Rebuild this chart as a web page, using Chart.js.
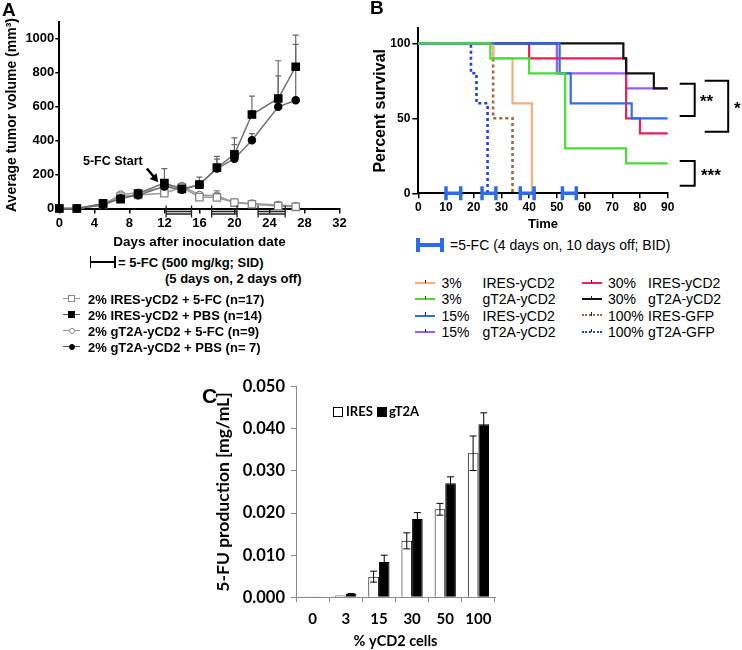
<!DOCTYPE html>
<html>
<head>
<meta charset="UTF-8">
<title>yCD2 tumor volume, survival and 5-FU production</title>
<script src="https://cdn.jsdelivr.net/npm/chart.js@4.4.1/dist/chart.umd.min.js"></script>
<style>
  body { margin: 0; background: #fff; width: 742px; height: 650px; position: relative; overflow: hidden; }
  canvas { position: absolute; }
  .t { position: absolute; white-space: nowrap; line-height: 1; transform: translateY(-50%);
       font-family: 'Liberation Sans', Arial, sans-serif; color: #000; }
  .b { font-weight: bold; }
  .c { font-family: Lato, 'Open Sans', sans-serif; font-weight: bold; }
  .ln { position: absolute; }
</style>
</head>
<body>
<canvas id="chartA" width="360" height="250" style="left:0;top:0"></canvas>
<canvas id="chartB" width="372" height="232" style="left:370px;top:0"></canvas>
<canvas id="chartC" width="330" height="300" style="left:180px;top:350px"></canvas>

<div class="t b" style="left:2px;top:9px;font-size:19px">A</div>
<div class="t b" style="left:370px;top:7px;font-size:19px">B</div>
<div class="t b" style="left:202px;top:395px;font-size:21px">C</div>

<div class="t b" style="left:83px;top:161px;font-size:12.5px">5-FC Start</div>
<div class="t b" style="left:118px;top:262px;font-size:13px">= 5-FC (500 mg/kg; SID)</div>
<div class="t b" style="left:165px;top:277.5px;font-size:13px">(5 days on, 2 days off)</div>

<div class="t" style="left:450px;top:245px;font-size:14px">=5-FC (4 days on, 10 days off; BID)</div>

<div class="t b" style="left:700px;top:101px;font-size:17px">**</div>
<div class="t b" style="left:734px;top:108px;font-size:17px">*</div>
<div class="t b" style="left:701px;top:175px;font-size:17px">***</div>

<div class="t c" style="left:346px;top:411px;font-size:13px">IRES</div>
<div class="t c" style="left:389px;top:411px;font-size:13px">gT2A</div>

<script>
  Chart.defaults.font.family = "'Liberation Sans', Arial, sans-serif";
  Chart.defaults.color = '#000';
  Chart.defaults.animation = false;

  // ---------- A: tumor volume ----------
  var daysA = [0, 2, 5, 7, 9, 12, 14, 16, 18, 20, 22, 25, 27];
  var iresFC  = [0, 0, 25, 70, 80, 90, 125, 67, 65, 35, 25, 15, 10];
  var iresPBS = [0, 0, 30, 55, 88, 149, 115, 140, 240, 319, 553, 647, 834];
  var gt2aFC  = [0, 0, 22, 82, 92, 126, 132, 80, 75, 35, 30, 20, 15];
  var gt2aPBS = [0, 0, 20, 60, 78, 130, 110, 140, 235, 293, 401, 598, 637];
  var errIresFC  = [0, 0, 5, 10, 10, 20, 15, 10, 40, 5, 5, 5, 5];
  var errIresPBS = [0, 0, 10, 10, 10, 85, 15, 45, 67, 96, 108, 222, 186];
  var errGt2aFC  = [0, 0, 5, 10, 10, 15, 10, 15, 30, 5, 5, 5, 5];
  var errGt2aPBS = [0, 0, 8, 10, 10, 20, 15, 20, 56, 83, 40, 182, 329];
  var xTicksA = [0, 4, 8, 12, 16, 20, 24, 28, 32];
  var yTicksA = [0, 200, 400, 600, 800, 1000];
  var fcCyclesA = [[12.2, 15.1], [17.4, 20.3], [22.7, 25.8]];
  var fcStartArrow = [[10, 235], [11.3, 155]];
  var legendA = ['2% IRES-yCD2 + 5-FC (n=17)', '2% IRES-yCD2 + PBS (n=14)',
                 '2% gT2A-yCD2 + 5-FC (n=9)', '2% gT2A-yCD2 + PBS (n= 7)'];

  // ---------- B: survival ----------
  var ires3   = [[0, 100], [27, 90], [34, 60], [41, 0]];
  var gt2a3   = [[0, 100], [26, 90], [40, 80], [53, 30], [75, 20], [90, 20]];
  var ires15  = [[0, 100], [51, 80], [55, 60], [77, 50], [90, 50]];
  var gt2a15  = [[0, 100], [50, 80], [75, 70], [90, 70]];
  var ires30  = [[0, 100], [40, 90], [75, 50], [80, 40], [90, 40]];
  var gt2a30  = [[0, 100], [74, 90], [75, 80], [85, 70], [90, 70]];
  var iresGFP = [[0, 100], [27, 50], [34, 0]];
  var gt2aGFP = [[0, 100], [19, 80], [21, 60], [25, 0]];
  var yTicksB = [0, 50, 100];
  var fcCyclesB = [[10, 15.3], [23, 28], [36.8, 41.8], [52, 57]];
  var sigBrackets = [[73, 51.5, 12, 27], [75, 41, 37, 60.5], [21.5, 5, 12, 27]];

  // ---------- C: 5-FU production ----------
  var cellsC = ['0', '3', '15', '30', '50', '100'];
  var iresC = [0.0002, 0.0004, 0.0049, 0.0134, 0.0209, 0.0342];
  var gt2aC = [0.0002, 0.0008, 0.0084, 0.0186, 0.0271, 0.0411];
  var errIresC = [0, 0, 0.0013, 0.0019, 0.0014, 0.0041];
  var errGt2aC = [0, 0.0001, 0.0016, 0.0015, 0.0015, 0.0027];
  var yTicksC = [0, 0.01, 0.02, 0.03, 0.04, 0.05];

  function fixTicks(list) {
    return function (s) { s.ticks = list.map(function (v) { return { value: v }; }); };
  }

  // ---- panel A ----
  function seriesA(vals, errs, shape, filled) {
    return {
      data: daysA.map(function (d, i) { return { x: d, y: vals[i] }; }),
      errors: errs,
      borderColor: filled ? '#707070' : '#9a9a9a',
      borderWidth: 1.5,
      pointStyle: shape,
      pointRadius: shape === 'rect' ? 5.2 : 3.6,
      pointBackgroundColor: filled ? '#000' : '#fff',
      pointBorderColor: filled ? '#000' : '#858585',
      pointBorderWidth: 1.3,
      errColor: filled ? '#6a6a6a' : '#9a9a9a',
      clip: false
    };
  }

  var errorBarsA = {
    id: 'errorBarsA',
    beforeDatasetsDraw: function (chart) {
      var ctx = chart.ctx, x = chart.scales.x, y = chart.scales.y;
      ctx.save();
      ctx.lineWidth = 1.2;
      chart.data.datasets.forEach(function (ds) {
        ctx.strokeStyle = ds.errColor;
        ds.data.forEach(function (p, i) {
          var e = ds.errors[i];
          if (!e) return;
          var px = x.getPixelForValue(p.x), y0 = y.getPixelForValue(p.y), y1 = y.getPixelForValue(p.y + e);
          ctx.beginPath();
          ctx.moveTo(px, y0); ctx.lineTo(px, y1);
          ctx.moveTo(px - 3, y1); ctx.lineTo(px + 3, y1);
          ctx.stroke();
        });
      });
      ctx.restore();
    }
  };

  var extrasA = {
    id: 'extrasA',
    afterDraw: function (chart) {
      var ctx = chart.ctx, x = chart.scales.x, y = chart.scales.y, b = chart.chartArea.bottom;
      ctx.save();
      ctx.strokeStyle = '#222';
      ctx.lineWidth = 1.3;
      fcCyclesA.forEach(function (c) {
        var x0 = x.getPixelForValue(c[0]), x1 = x.getPixelForValue(c[1]);
        ctx.beginPath();
        ctx.moveTo(x0, b - 3); ctx.lineTo(x0, b + 9);
        ctx.moveTo(x1, b - 3); ctx.lineTo(x1, b + 9);
        ctx.moveTo(x0, b + 3); ctx.lineTo(x1, b + 3);
        ctx.moveTo(x0, b + 5.5); ctx.lineTo(x1, b + 5.5);
        ctx.stroke();
      });
      // 5-FC start arrow
      var ax0 = x.getPixelForValue(fcStartArrow[0][0]), ay0 = y.getPixelForValue(fcStartArrow[0][1]);
      var ax1 = x.getPixelForValue(fcStartArrow[1][0]), ay1 = y.getPixelForValue(fcStartArrow[1][1]);
      var ang = Math.atan2(ay1 - ay0, ax1 - ax0);
      ctx.strokeStyle = '#000';
      ctx.fillStyle = '#000';
      ctx.lineWidth = 2.5;
      ctx.beginPath();
      ctx.moveTo(ax0, ay0);
      ctx.lineTo(ax1 - 6 * Math.cos(ang), ay1 - 6 * Math.sin(ang));
      ctx.stroke();
      ctx.beginPath();
      ctx.moveTo(ax1, ay1);
      ctx.lineTo(ax1 - 8 * Math.cos(ang) + 4.5 * Math.sin(ang), ay1 - 8 * Math.sin(ang) - 4.5 * Math.cos(ang));
      ctx.lineTo(ax1 - 8 * Math.cos(ang) - 4.5 * Math.sin(ang), ay1 - 8 * Math.sin(ang) + 4.5 * Math.cos(ang));
      ctx.closePath();
      ctx.fill();
      ctx.restore();
    }
  };

  new Chart(document.getElementById('chartA'), {
    type: 'line',
    data: {
      datasets: [
        seriesA(iresPBS, errIresPBS, 'rect', true),
        seriesA(gt2aPBS, errGt2aPBS, 'circle', true),
        seriesA(iresFC, errIresFC, 'rect', false),
        seriesA(gt2aFC, errGt2aFC, 'circle', false)
      ]
    },
    options: {
      responsive: false,
      layout: { padding: { top: 21.5, right: 20.5, left: 0, bottom: 0 } },
      plugins: { legend: { display: false }, tooltip: { enabled: false } },
      scales: {
        x: {
          type: 'linear', min: 0, max: 32,
          afterBuildTicks: fixTicks(xTicksA),
          afterFit: function (s) { s.height = 41.5; },
          grid: { drawOnChartArea: false, tickLength: 5, color: '#000', lineWidth: 1.5 },
          border: { color: '#000', width: 2 },
          ticks: { font: { size: 13, weight: 'bold' }, padding: 2, maxRotation: 0,
                   callback: function (v) { return String(v); } },
          title: { display: true, text: 'Days after inoculation date', font: { size: 13.5, weight: 'bold' }, padding: 0 }
        },
        y: {
          min: 0, max: 1100,
          afterBuildTicks: fixTicks(yTicksA),
          afterFit: function (s) { s.width = 59.3; },
          grid: { drawOnChartArea: false, tickLength: 4, color: '#000', lineWidth: 1.5 },
          border: { color: '#000', width: 2 },
          ticks: { font: { size: 13, weight: 'bold' }, padding: 1,
                   callback: function (v) { return String(v); } },
          title: { display: true, text: 'Average tumor volume (mm³)', font: { size: 14, weight: 'bold' }, padding: { top: 3.6, bottom: 0 } }
        }
      }
    },
    plugins: [errorBarsA, extrasA]
  });

  // ---- panel B ----
  var colB = {
    ires3: '#f6b07c', gt2a3: '#48dc34', ires15: '#2f6cf0', gt2a15: '#9a5cf5',
    ires30: '#ea1f55', gt2a30: '#111111', iresGFP: '#9b6a3c', gt2aGFP: '#2443d6'
  };

  function seriesB(pts, color, dotted) {
    return {
      data: pts.map(function (p) { return { x: p[0], y: p[1] }; }),
      borderColor: color,
      borderWidth: dotted ? 2.6 : 2.2,
      borderDash: dotted ? [3, 3] : [],
      stepped: true,
      pointRadius: 0,
      clip: false
    };
  }

  var extrasB = {
    id: 'extrasB',
    afterDraw: function (chart) {
      var ctx = chart.ctx, x = chart.scales.x, y = chart.scales.y, area = chart.chartArea;
      var b = y.getPixelForValue(0);
      ctx.save();
      ctx.strokeStyle = '#2d6bea';
      ctx.lineWidth = 3.5;
      fcCyclesB.forEach(function (c) {
        var x0 = x.getPixelForValue(c[0]), x1 = x.getPixelForValue(c[1]);
        ctx.beginPath();
        ctx.moveTo(x0, b - 7); ctx.lineTo(x0, b + 7);
        ctx.moveTo(x1, b - 7); ctx.lineTo(x1, b + 7);
        ctx.moveTo(x0, b); ctx.lineTo(x1, b);
        ctx.stroke();
      });
      ctx.strokeStyle = '#000';
      ctx.lineWidth = 2;
      sigBrackets.forEach(function (s) {
        var yt = y.getPixelForValue(s[0]), yb = y.getPixelForValue(s[1]);
        var x0 = area.right + s[2], x1 = area.right + s[3];
        ctx.beginPath();
        ctx.moveTo(x0, yt); ctx.lineTo(x1, yt); ctx.lineTo(x1, yb); ctx.lineTo(x0, yb);
        ctx.stroke();
      });
      ctx.restore();
    }
  };

  new Chart(document.getElementById('chartB'), {
    type: 'line',
    data: {
      datasets: [
        seriesB(gt2a3, colB.gt2a3, false),
        seriesB(ires15, colB.ires15, false),
        seriesB(ires3, colB.ires3, false),
        seriesB(gt2aGFP, colB.gt2aGFP, true),
        seriesB(iresGFP, colB.iresGFP, true),
        seriesB(gt2a30, colB.gt2a30, false),
        seriesB(ires30, colB.ires30, false),
        seriesB(gt2a15, colB.gt2a15, false)
      ]
    },
    options: {
      responsive: false,
      layout: { padding: { top: 28.3, right: 74.3, left: 0, bottom: 0 } },
      plugins: { legend: { display: false }, tooltip: { enabled: false } },
      scales: {
        x: {
          type: 'linear', min: 0, max: 90,
          ticks: { stepSize: 10, font: { size: 12, weight: 'bold' }, padding: 2, maxRotation: 0 },
          afterFit: function (s) { s.height = 38.7; },
          grid: { drawOnChartArea: false, tickLength: 5, color: '#000', lineWidth: 1.5 },
          border: { color: '#000', width: 2 },
          title: { display: true, text: 'Time', font: { size: 13, weight: 'bold' }, padding: 0 }
        },
        y: {
          min: 0, max: 110,
          afterBuildTicks: fixTicks(yTicksB),
          afterFit: function (s) { s.width = 48.3; },
          grid: { drawOnChartArea: false, tickLength: 6, color: '#000', lineWidth: 1.5 },
          border: { color: '#000', width: 2 },
          ticks: { font: { size: 12, weight: 'bold' }, padding: 2 },
          title: { display: true, text: 'Percent survival', font: { size: 16, weight: 'bold' }, padding: { top: 1, bottom: 0 } }
        }
      }
    },
    plugins: [extrasB]
  });

  // ---- panel C ----
  var errorBarsC = {
    id: 'errorBarsC',
    afterDatasetsDraw: function (chart) {
      var ctx = chart.ctx, y = chart.scales.y;
      var errs = [errIresC, errGt2aC];
      ctx.save();
      ctx.strokeStyle = '#000';
      ctx.lineWidth = 1;
      chart.data.datasets.forEach(function (ds, di) {
        chart.getDatasetMeta(di).data.forEach(function (bar, i) {
          var e = errs[di][i];
          if (!e) return;
          var v = ds.data[i];
          var yt = y.getPixelForValue(v + e), yb = y.getPixelForValue(v - e);
          ctx.beginPath();
          ctx.moveTo(bar.x, yb); ctx.lineTo(bar.x, yt);
          ctx.moveTo(bar.x - 3.5, yt); ctx.lineTo(bar.x + 3.5, yt);
          ctx.moveTo(bar.x - 3.5, yb); ctx.lineTo(bar.x + 3.5, yb);
          ctx.stroke();
        });
      });
      ctx.restore();
    }
  };

  var fontC = "Lato, 'Open Sans', sans-serif";
  new Chart(document.getElementById('chartC'), {
    type: 'bar',
    data: {
      labels: cellsC,
      datasets: [
        { label: 'IRES', data: iresC, backgroundColor: '#fff', borderColor: '#000', borderWidth: 1,
          categoryPercentage: 0.64, barPercentage: 1 },
        { label: 'gT2A', data: gt2aC, backgroundColor: '#000', borderColor: '#000', borderWidth: 1,
          categoryPercentage: 0.64, barPercentage: 1 }
      ]
    },
    options: {
      responsive: false,
      layout: { padding: { top: 36.7, right: 15, left: 0, bottom: 0 } },
      plugins: { legend: { display: false }, tooltip: { enabled: false } },
      scales: {
        x: {
          afterFit: function (s) { s.height = 52.7; },
          grid: { offset: true, drawOnChartArea: false, tickLength: 5, color: '#8a8a8a', lineWidth: 1 },
          border: { color: '#8a8a8a', width: 1 },
          ticks: { font: { family: fontC, size: 15, weight: 'bold' }, padding: 8 },
          title: { display: true, text: '% yCD2 cells', font: { family: fontC, size: 14.5, weight: 'bold' }, padding: 0 }
        },
        y: {
          min: 0, max: 0.05,
          afterBuildTicks: fixTicks(yTicksC),
          afterFit: function (s) { s.width = 116; },
          grid: { drawOnChartArea: false, tickLength: 5, color: '#8a8a8a', lineWidth: 1 },
          border: { color: '#8a8a8a', width: 1 },
          ticks: { font: { family: fontC, size: 16.5, weight: 'bold' }, padding: 6,
                   callback: function (v) { return v.toFixed(3); } },
          title: { display: true, text: '5-FU production [mg/mL]', font: { family: fontC, size: 17.5, weight: 'bold' },
                   padding: { top: 32.8, bottom: 0 } }
        }
      }
    },
    plugins: [errorBarsC]
  });

  // ---- legends drawn as page elements ----
  function box(left, top, w, h, css) {
    var d = document.createElement('div');
    d.className = 'ln';
    d.style.cssText += 'left:' + left + 'px;top:' + top + 'px;width:' + w + 'px;height:' + h + 'px;' + (css || '');
    document.body.appendChild(d);
    return d;
  }
  function text(left, top, str, cls, size) {
    var d = document.createElement('div');
    d.className = 't ' + cls;
    d.style.left = left + 'px';
    d.style.top = top + 'px';
    d.style.fontSize = size + 'px';
    d.textContent = str;
    document.body.appendChild(d);
  }

  // A: dosing key and group key
  box(90, 261, 25, 1.5, 'background:#000');
  box(89.5, 256, 1.5, 12, 'background:#000');
  box(114, 256, 1.5, 12, 'background:#000');
  var rowsA = [298.5, 314.5, 330.5, 346.5];
  var markA = [['sq', false], ['sq', true], ['ci', false], ['ci', true]];
  legendA.forEach(function (label, i) {
    var yc = rowsA[i], filled = markA[i][1];
    box(63, yc - 0.75, 17, 1.5, 'background:' + (filled ? '#555' : '#9a9a9a'));
    var s = markA[i][0] === 'sq' ? 7 : 6;
    box(71.5 - s / 2, yc - s / 2, s - 2, s - 2, 'box-sizing:content-box;border:1px solid ' + (filled ? '#000' : '#888') +
        ';background:' + (filled ? '#000' : '#fff') + (markA[i][0] === 'ci' ? ';border-radius:50%' : ''));
    text(88, yc, label, 'b', 13);
  });

  // B: dosing key and group key
  box(417, 243.2, 25, 3.5, 'background:#2d6bea');
  box(416, 238, 3.5, 14, 'background:#2d6bea');
  box(440, 238, 3.5, 14, 'background:#2d6bea');
  var rowsB = [283, 299, 315.5, 332];
  var legendB = [
    ['3%', 'IRES-yCD2', colB.ires3, false, 0, 0], ['3%', 'gT2A-yCD2', colB.gt2a3, false, 0, 1],
    ['15%', 'IRES-yCD2', colB.ires15, false, 0, 2], ['15%', 'gT2A-yCD2', colB.gt2a15, false, 0, 3],
    ['30%', 'IRES-yCD2', colB.ires30, false, 1, 0], ['30%', 'gT2A-yCD2', colB.gt2a30, false, 1, 1],
    ['100%', 'IRES-GFP', colB.iresGFP, true, 1, 2], ['100%', 'gT2A-GFP', colB.gt2aGFP, true, 1, 3]
  ];
  var colX = [[415, 441.5, 482.5], [581.5, 608, 648]];
  legendB.forEach(function (e) {
    var cx = colX[e[4]], yc = rowsB[e[5]];
    if (e[3]) {
      box(cx[0], yc - 1.2, 20, 0, 'border-top:2.5px dotted ' + e[2]);
    } else {
      box(cx[0], yc - 1, 20, 2, 'background:' + e[2]);
    }
    box(cx[0] + 9.5, yc - 3.5, 1.2, 3.5, 'background:#222');
    text(cx[1], yc, e[0], '', 14);
    text(cx[2], yc, e[1], '', 14);
  });

  // C: bar key
  box(333, 406.5, 8, 8, 'box-sizing:content-box;border:1px solid #000;background:#fff');
  box(377, 406.5, 8, 8, 'box-sizing:content-box;border:1px solid #000;background:#000');
</script>
</body>
</html>
